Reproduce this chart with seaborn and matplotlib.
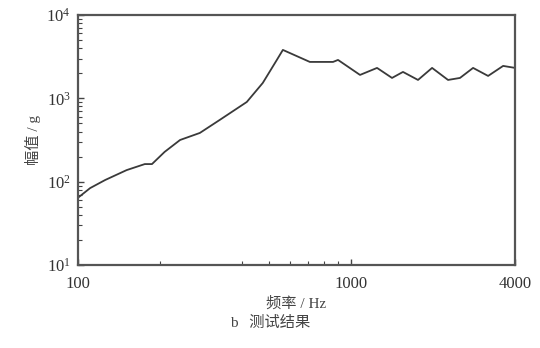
import matplotlib
matplotlib.use('Agg')
import matplotlib.pyplot as plt
import matplotlib.ticker as mticker
import seaborn as sns
import pandas as pd

# test result curve
freq_hz = [100, 111, 126, 151, 176, 187, 208, 237, 280, 331, 416, 476, 536, 564,
           708, 861, 898, 1081, 1248, 1416, 1553, 1763, 1985, 2271, 2512, 2805,
           3184, 3614, 4000]
amp_g = [64, 84, 105, 138, 163, 163, 228, 317, 385, 551, 905, 1530, 2890, 3810,
         2735, 2735, 2890, 1910, 2318, 1758, 2075, 1663, 2318, 1663, 1758, 2318,
         1858, 2450, 2318]

x_ticks = [100, 1000, 4000]
x_minor = [200, 400, 500, 600, 700, 800, 900]
y_ticks = [10, 100, 1000, 10000]

x_label = '频率 / Hz'
y_label = '幅值 / g'
caption = 'b   测试结果'

df = pd.DataFrame({'f': freq_hz, 'a': amp_g})

sns.set_style('ticks')
plt.rcParams['font.family'] = ['Liberation Serif', 'Noto Sans CJK SC', 'DejaVu Sans']
plt.rcParams['mathtext.fontset'] = 'stix'

fig = plt.figure(figsize=(5.4, 3.48), dpi=100)
ax = fig.add_axes([0.144, 0.238, 0.81, 0.719])

sns.lineplot(data=df, x='f', y='a', ax=ax, color='#3a3a3a', linewidth=1.3)

ax.set_xscale('log')
ax.set_yscale('log')
ax.set_xlim(100, 4000)
ax.set_ylim(10, 10000)

ax.xaxis.set_major_locator(mticker.FixedLocator(x_ticks))
ax.xaxis.set_major_formatter(mticker.FixedFormatter([str(t) for t in x_ticks]))
ax.xaxis.set_minor_locator(mticker.FixedLocator(x_minor))
ax.xaxis.set_minor_formatter(mticker.NullFormatter())
ax.yaxis.set_major_locator(mticker.FixedLocator(y_ticks))
ax.yaxis.set_major_formatter(mticker.LogFormatterMathtext())
ax.yaxis.set_minor_locator(mticker.LogLocator(subs=range(2, 10)))
ax.yaxis.set_minor_formatter(mticker.NullFormatter())

ax.tick_params(which='both', direction='in', color='#444444', labelsize=12,
               labelcolor='#333333')
ax.tick_params(which='major', length=4, width=1)
ax.tick_params(which='minor', length=3, width=0.8)
ax.tick_params(axis='x', which='both', top=False, pad=8)
ax.tick_params(axis='y', which='both', right=False, pad=5)

for s in ax.spines.values():
    s.set_color('#555555')
    s.set_linewidth(1.6)

ax.set_xlabel(x_label, fontsize=11, color='#444444', labelpad=3)
ax.set_ylabel(y_label, fontsize=11, color='#444444', labelpad=4)
fig.text(0.5, 0.06, caption, ha='center', fontsize=11, color='#444444')

fig.savefig('out.png', dpi=100)
